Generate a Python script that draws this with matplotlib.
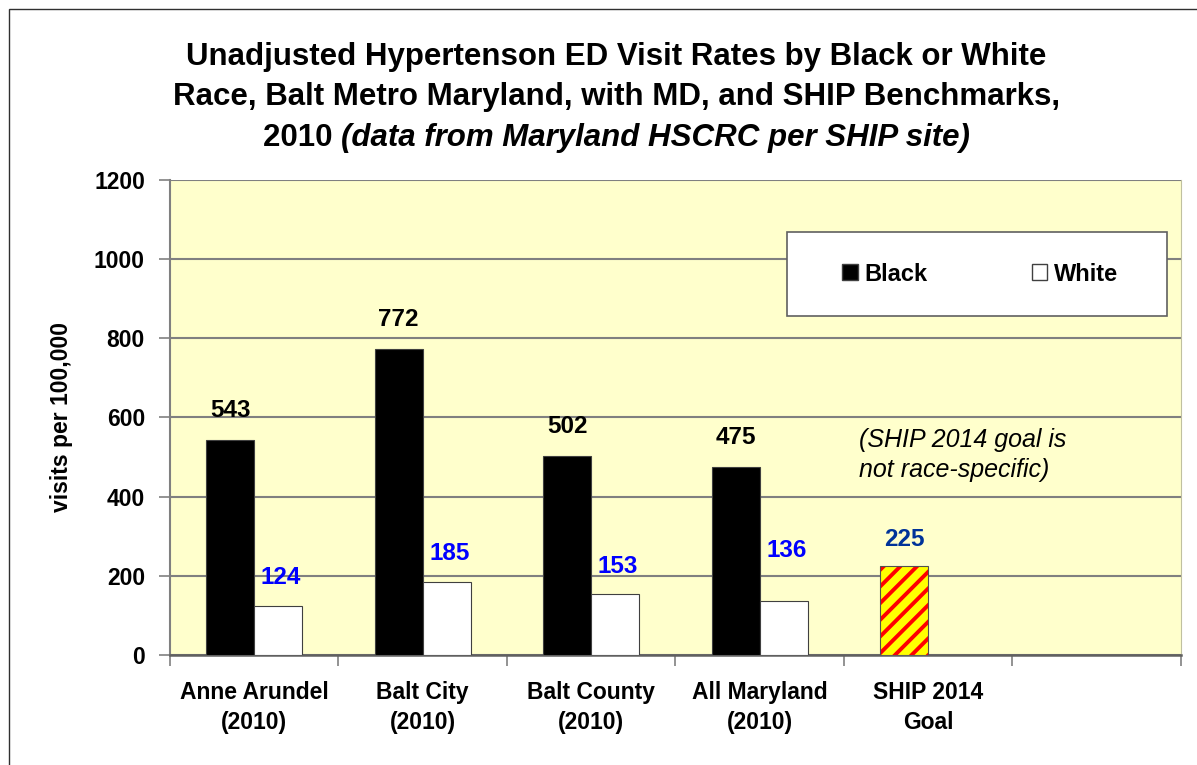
import matplotlib
matplotlib.use('Agg')
import matplotlib.pyplot as plt
from matplotlib.patches import Patch, Rectangle
import numpy as np

# data
categories = ["Anne Arundel\n(2010)", "Balt City\n(2010)", "Balt County\n(2010)",
              "All Maryland\n(2010)", "SHIP 2014\nGoal", ""]
black_vals = [543, 772, 502, 475]
white_vals = [124, 185, 153, 136]
ship_goal = 225
yticks = [0, 200, 400, 600, 800, 1000, 1200]

plt.rcParams['font.family'] = ['Liberation Sans', 'DejaVu Sans']
plt.rcParams['hatch.linewidth'] = 2.8
plt.rcParams['hatch.color'] = '#FF0000'

fig = plt.figure(figsize=(11.97, 7.65), dpi=100)
ax = fig.add_axes([0.142, 0.1438, 0.8446, 0.6209])
ax.set_facecolor('#FFFFCC')

w = 0.285
x = np.arange(len(black_vals))
ax.bar(x - w / 2, black_vals, width=w, color='black', edgecolor='#404040', linewidth=0.8, zorder=3)
ax.bar(x + w / 2, white_vals, width=w, color='white', edgecolor='#404040', linewidth=0.8, zorder=3)
# hatched goal bar: fill + red stripes, then outline on top
ax.bar([4 - w / 2], [ship_goal], width=w, color='#FFFF00', linewidth=0, hatch='//', zorder=3)
ax.bar([4 - w / 2], [ship_goal], width=w, fill=False, edgecolor='#505050', linewidth=0.8, zorder=4)

# value labels
extra_lift = {3: 16}  # the 136 label sits higher in the original
for i, v in enumerate(black_vals):
    ax.annotate(str(v), (i - w / 2, v), xytext=(0, 13), textcoords='offset points',
                ha='center', va='bottom', fontsize=17.5, fontweight='bold', color='black')
for i, v in enumerate(white_vals):
    ax.annotate(str(v), (i + w / 2, v), xytext=(2, 12 + extra_lift.get(i, 0)),
                textcoords='offset points', ha='center', va='bottom',
                fontsize=17.5, fontweight='bold', color='#0000FF')
ax.annotate(str(ship_goal), (4 - w / 2, ship_goal), xytext=(0, 11), textcoords='offset points',
            ha='center', va='bottom', fontsize=17.5, fontweight='bold', color='#003399')

ax.text(3.59, 505, "(SHIP 2014 goal is\nnot race-specific)", fontsize=18, fontstyle='italic',
        ha='left', va='center', linespacing=1.32)

ax.set_xlim(-0.5, 5.5)
ax.set_ylim(0, 1200)
ax.set_yticks(yticks)
ax.set_yticklabels([str(t) for t in yticks], fontsize=16.5, fontweight='bold')
ax.yaxis.grid(True, color='#808080', linewidth=1.5, zorder=0)
ax.set_axisbelow(True)
ax.tick_params(axis='y', length=8, width=1.2, color='#808080', pad=10)

ax.set_xticks(np.arange(len(categories)))
ax.set_xticklabels(categories, fontsize=16.5, fontweight='bold', linespacing=1.42)
ax.set_xticks(np.arange(len(categories) + 1) - 0.5, minor=True)
ax.tick_params(axis='x', which='major', length=0, pad=18.5)
ax.tick_params(axis='x', which='minor', length=8, width=1.2, color='#808080')

ax.spines['top'].set_visible(False)
ax.spines['right'].set_color('#C0C0A0')
ax.spines['left'].set_color('#808080')
ax.spines['left'].set_linewidth(1.5)
ax.spines['bottom'].set_color('#606060')
ax.spines['bottom'].set_linewidth(1.8)

ax.set_ylabel("visits per 100,000", fontsize=16.5, fontweight='bold', labelpad=15)

# legend: box drawn separately so the inner padding can differ per direction
box = Rectangle((0.61, 0.7137), 0.376, 0.177, transform=ax.transAxes, facecolor='white',
                edgecolor='#606060', linewidth=1.2, zorder=5)
ax.add_patch(box)
handles = [Patch(facecolor='black', edgecolor='#404040', label='Black'),
           Patch(facecolor='white', edgecolor='#404040', label='White')]
leg = ax.legend(handles=handles, ncol=2, loc='center', bbox_to_anchor=(0.8015, 0.802),
                prop={'size': 17, 'weight': 'bold'}, handlelength=0.65,
                handleheight=0.65, handletextpad=0.3, columnspacing=4.4,
                frameon=False, borderpad=0, borderaxespad=0)
leg.set_zorder(6)

# title
title_kw = dict(fontsize=22.5, fontweight='bold', ha='center', va='center')
fig.text(0.515, 0.926, "Unadjusted Hypertenson ED Visit Rates by Black or White", **title_kw)
fig.text(0.515, 0.873, "Race, Balt Metro Maryland, with MD, and SHIP Benchmarks,", **title_kw)
fig.canvas.draw()
r = fig.canvas.get_renderer()
t1 = fig.text(0, 0.819, "2010 ", fontsize=22.5, fontweight='bold', ha='left', va='center')
t2 = fig.text(0, 0.819, "(data from Maryland HSCRC per SHIP site)", fontsize=22.5,
              fontweight='bold', fontstyle='italic', ha='left', va='center')
w1 = t1.get_window_extent(r).width / fig.bbox.width
w2 = t2.get_window_extent(r).width / fig.bbox.width
start = 0.515 - (w1 + w2) / 2
t1.set_x(start)
t2.set_x(start + w1)

# outer border (only left and top edges fall inside the image)
fig.patches.append(Rectangle((9 / 1197, -0.1), 1.2, (765 - 9) / 765 + 0.1,
                             transform=fig.transFigure, fill=False, edgecolor='#303030',
                             linewidth=1.0))

fig.savefig("out.png", dpi=100)
